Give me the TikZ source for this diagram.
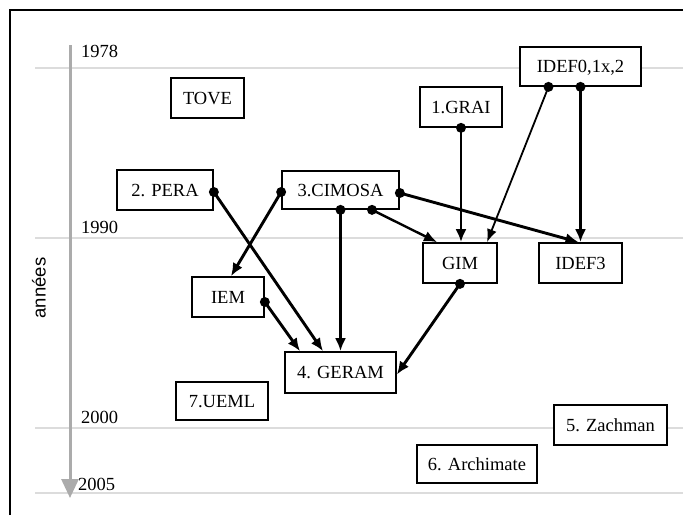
\documentclass[tikz,border=0pt]{standalone}
\usepackage{fontspec}
\setmainfont{Liberation Serif}
\newfontfamily\axisfont{Liberation Sans}
\usetikzlibrary{arrows.meta,calc}
\definecolor{gridgray}{HTML}{DCDCDC}
\definecolor{axisgray}{HTML}{ABABAB}
\begin{document}
\begin{tikzpicture}[x=1pt,y=-1pt,
  box/.style={draw=black,line width=1.7pt,fill=white,inner sep=0pt,text height=12.5pt,text depth=0pt,font=\fontsize{18.5}{20}\selectfont},
  yearlbl/.style={anchor=base west,inner sep=0pt,font=\fontsize{18.5}{20}\selectfont},
  gridline/.style={draw=gridgray,line width=1.8pt},
  link/.style={draw=black,line width=2.9pt,-{Latex[length=13pt,width=11pt]}},
  thinlink/.style={draw=black,line width=1.8pt,-{Latex[length=13pt,width=10pt]}},
  midlink/.style={draw=black,line width=2.4pt,-{Latex[length=13pt,width=11pt]}},
  dot/.style={fill=black}
]
\useasboundingbox (0,0) rectangle (683,515);
% frame
\draw[line width=1.8pt] (10,515) -- (10,10) -- (683,10);
% grid lines
\coordinate (g78a) at (35,68);  \coordinate (g78b) at (683,68);
\coordinate (g90a) at (35,238); \coordinate (g90b) at (683,238);
\coordinate (g00a) at (35,428); \coordinate (g00b) at (683,428);
\coordinate (g05a) at (35,493); \coordinate (g05b) at (683,493);
\draw[gridline] (g78a) -- (g78b);
\draw[gridline] (g90a) -- (g90b);
\draw[gridline] (g00a) -- (g00b);
\draw[gridline] (g05a) -- (g05b);
% axis
\coordinate (axtop) at (70,45);
\coordinate (axbot) at (70,498);
\draw[draw=axisgray,line width=3pt,-{Triangle[length=19pt,width=17pt]}] (axtop) -- (axbot);
\node[yearlbl] (y78) at (81,57) {1978};
\node[yearlbl] (y90) at (81,233) {1990};
\node[yearlbl] (y00) at (81,423) {2000};
\node[yearlbl] (y05) at (78,490) {2005};
\node[rotate=90,inner sep=0pt,font=\axisfont\fontsize{18.5}{20}\selectfont] (annees) at (39,288) {années};
% boxes
\node[box,minimum width=73pt,minimum height=40pt] (tove) at (207.5,98) {TOVE};
\node[box,minimum width=82pt,minimum height=40pt] (grai) at (461,107) {1.GRAI};
\node[box,minimum width=121pt,minimum height=39pt] (idef0) at (580.5,66.5) {IDEF0,1x,2};
\node[box,minimum width=96pt,minimum height=40pt] (pera) at (165,190) {2. PERA};
\node[box,minimum width=117pt,minimum height=38pt] (cimosa) at (340.5,190) {3.CIMOSA};
\node[box,minimum width=74pt,minimum height=40pt] (gim) at (460,263) {GIM};
\node[box,minimum width=83pt,minimum height=40pt] (idef3) at (580.5,263) {IDEF3};
\node[box,minimum width=72pt,minimum height=40pt] (iem) at (228,297) {IEM};
\node[box,minimum width=111pt,minimum height=41pt] (geram) at (340.5,372.5) {4. GERAM};
\node[box,minimum width=92pt,minimum height=38pt] (ueml) at (222,401) {7.UEML};
\node[box,minimum width=113pt,minimum height=40pt] (zach) at (610.5,425) {5. Zachman};
\node[box,minimum width=120pt,minimum height=38pt] (archi) at (477,464) {6. Archimate};
% connector start points
\coordinate (s1) at (grai.south);
\coordinate (s2) at ([xshift=-32pt]idef0.south);
\coordinate (s3) at (idef0.south);
\coordinate (s4) at ([yshift=-3pt]cimosa.east);
\coordinate (s5) at ([xshift=31.5pt]cimosa.south);
\coordinate (s6) at (cimosa.south);
\coordinate (s7) at ([yshift=-2pt]cimosa.west);
\coordinate (s8) at ([yshift=-2pt]pera.east);
\coordinate (s9) at ([yshift=-5pt]iem.east);
\coordinate (s10) at (gim.south);
% connectors
\draw[link] (s1) -- (s1 |- gim.north);
\draw[thinlink] (s2) -- ([xshift=27pt]gim.north);
\draw[link] (s3) -- (s3 |- idef3.north);
\draw[link] (s4) -- ([xshift=-2pt]idef3.north);
\draw[midlink] (s5) -- ([xshift=-23pt]gim.north);
\draw[link] (s6) -- (s6 |- geram.north);
\draw[link] (s7) -- ([xshift=3pt]iem.north);
\draw[link] (s8) -- ([xshift=-17.5pt]geram.north);
\draw[link] (s9) -- ([xshift=-40.5pt]geram.north);
\draw[link] (s10) -- ([yshift=-2pt]geram.east);
% dots
\foreach \p in {s1,s2,s3,s4,s5,s6,s7,s8,s9,s10} \fill[dot] (\p) circle (5pt);
\end{tikzpicture}
\end{document}
